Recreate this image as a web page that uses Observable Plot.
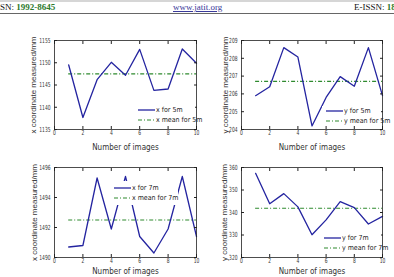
<!DOCTYPE html>
<html>
<head>
<meta charset="utf-8">
<script src="https://cdn.jsdelivr.net/npm/d3@7"></script>
<script src="https://cdn.jsdelivr.net/npm/@observablehq/plot@0.6"></script>
<style>
  body { margin: 0; background: #fff; }
  #page { position: relative; width: 394px; height: 277px; overflow: hidden; background: #fff; }
  .hdr { position: absolute; left: 0; top: 0; width: 394px; height: 11px; border-top: 2px solid #d6d6d6; border-bottom: 1px solid #666; font-family: "Liberation Serif", "Times New Roman", serif; font-size: 9px; line-height: 11px; color: #111; }
  .hdr span { position: absolute; top: 0; white-space: nowrap; }
  .hdr b { color: #2d7a2d; }
  .hdr a { color: #3a3a9a; text-decoration: underline; }
  .panel { position: absolute; }
  .legend { position: absolute; background: #fff; font-family: "Liberation Sans Narrow", "DejaVu Sans Condensed", "Liberation Sans", sans-serif; font-size: 7px; color: #222; }
  .legend .row { position: absolute; height: 10px; line-height: 10px; white-space: nowrap; }
  .legend svg { position: absolute; top: 0; }
  .legend .lbl { position: absolute; top: 0; }
</style>
</head>
<body>
<div id="page">
  <div class="hdr">
    <span style="left:-8px">ISSN: <b>1992-8645</b></span>
    <span style="left:173px"><a>www.jatit.org</a></span>
    <span style="left:354px">E-ISSN: <b>1817-3195</b></span>
  </div>
</div>
<script>
// Measurements over ten images, at 5 m and 7 m distance
const images = [1, 2, 3, 4, 5, 6, 7, 8, 9, 10];

const x5m = [1149.5, 1137.7, 1146.2, 1150.1, 1147.2, 1153.0, 1143.8, 1144.1, 1153.1, 1149.9];
const x5mMean = [1147.5];
const y5m = [205.9, 206.4, 208.6, 208.07, 204.2, 205.8, 206.97, 206.43, 208.6, 205.9];
const y5mMean = [206.7];
const x7m = [1490.7, 1490.8, 1495.3, 1491.9, 1495.4, 1491.4, 1490.3, 1491.9, 1495.4, 1491.4];
const x7mMean = [1492.5];
const y7m = [357.4, 343.9, 348.4, 342.5, 330.1, 336.7, 344.8, 342.2, 334.9, 338.3];
const y7mMean = [341.9];

const xTicks = [0, 2, 4, 6, 8, 10];
const yTicksX5 = [1135, 1140, 1145, 1150, 1155];
const yTicksY5 = [204, 205, 206, 207, 208, 209];
const yTicksX7 = [1490, 1492, 1494, 1496];
const yTicksY7 = [320, 330, 340, 350, 360];

const xTitle = "Number of images";
const yTitleX = "x coordinate measured/mm";
const yTitleY = "y coordinate measured/mm";

const legendX5 = ["x for 5m", "x mean for 5m"];
const legendY5 = ["y for 5m", "y mean for 5m"];
const legendX7 = ["x for 7m", "x mean for 7m"];
const legendY7 = ["y for 7m", "y mean for 7m"];

const BLUE = "#2424a0";
const GREEN = "#2f8a2f";
const DASH = "4,2,1,2";
const TICK_FONT = "'Liberation Sans Narrow', 'DejaVu Sans Condensed', 'Liberation Sans', sans-serif";

const panels = [
  {values: x5m, mean: x5mMean, ticks: yTicksX5, yTitle: yTitleX, legend: legendX5,
   box: {left: 0, top: 30, width: 200, height: 125, ml: 54, mt: 10, mr: 4, mb: 26, xTitleDy: 18, yTitleDx: -21},
   leg: {left: 134, top: 105, width: 61, height: 21}},
  {values: y5m, mean: y5mMean, ticks: yTicksY5, yTitle: yTitleY, legend: legendY5,
   box: {left: 190, top: 30, width: 196, height: 125, ml: 51, mt: 10, mr: 4, mb: 26, xTitleDy: 18, yTitleDx: -16.5},
   leg: {left: 322, top: 106, width: 59, height: 20}},
  {values: x7m, mean: x7mMean, ticks: yTicksX7, yTitle: yTitleX, legend: legendX7,
   box: {left: 0, top: 157, width: 200, height: 120, ml: 54, mt: 10, mr: 4, mb: 20, xTitleDy: 14, yTitleDx: -20},
   leg: {left: 110, top: 181, width: 68, height: 24, padTop: 2}},
  {values: y7m, mean: y7mMean, ticks: yTicksY7, yTitle: yTitleY, legend: legendY7,
   box: {left: 190, top: 157, width: 196, height: 120, ml: 51, mt: 10, mr: 4, mb: 20, xTitleDy: 14, yTitleDx: -17},
   leg: {left: 320, top: 233, width: 61, height: 21}}
];

const page = document.getElementById("page");

for (const p of panels) {
  const rows = images.map((n, i) => ({n, v: p.values[i]}));
  const b = p.box;
  const chart = Plot.plot({
    width: b.width,
    height: b.height,
    marginLeft: b.ml,
    marginTop: b.mt,
    marginRight: b.mr,
    marginBottom: b.mb,
    style: {background: "transparent", color: "#222", fontFamily: TICK_FONT, fontSize: "7px", overflow: "visible"},
    x: {domain: [xTicks[0], xTicks[xTicks.length - 1]], axis: null},
    y: {domain: [p.ticks[0], p.ticks[p.ticks.length - 1]], axis: null},
    marks: [
      Plot.ruleY(p.mean, {x1: images[0], x2: images[images.length - 1], stroke: GREEN, strokeWidth: 1.2, strokeDasharray: DASH}),
      Plot.line(rows, {x: "n", y: "v", stroke: BLUE, strokeWidth: 1.3}),
      Plot.frame({stroke: "#222", strokeWidth: 0.8}),
      Plot.axisX({anchor: "bottom", ticks: xTicks, tickSize: -3, tickPadding: 4, tickFormat: d => String(d), label: null, fill: "#333"}),
      Plot.axisX({anchor: "top", ticks: xTicks, tickSize: -3, tickFormat: () => "", label: null}),
      Plot.axisY({anchor: "left", ticks: p.ticks, tickSize: -3, tickPadding: 7, tickFormat: d => String(d), label: null, fill: "#333"}),
      Plot.axisY({anchor: "right", ticks: p.ticks, tickSize: -3, tickFormat: () => "", label: null}),
      Plot.text([xTitle], {frameAnchor: "bottom", lineAnchor: "middle", textAnchor: "middle", dy: b.xTitleDy, text: d => d, fontSize: 8, fill: "#333"}),
      Plot.text([p.yTitle], {frameAnchor: "left", rotate: -90, textAnchor: "middle", lineAnchor: "middle", dx: b.yTitleDx, text: d => d, fontSize: 8, fontFamily: "'Liberation Sans', Arial, sans-serif", fill: "#333"})
    ]
  });
  const wrap = document.createElement("div");
  wrap.className = "panel";
  wrap.style.left = b.left + "px";
  wrap.style.top = b.top + "px";
  wrap.appendChild(chart);
  page.appendChild(wrap);

  // narrow the numeric tick labels to a condensed look
  chart.querySelectorAll("g[aria-label$='tick label'] text").forEach(t => {
    if (!t.textContent) return;
    const w = t.getComputedTextLength();
    if (w > 0) {
      t.setAttribute("textLength", (w * 0.7).toFixed(2));
      t.setAttribute("lengthAdjust", "spacingAndGlyphs");
    }
  });

  // legend box drawn over the axes area
  const L = p.leg;
  const lg = document.createElement("div");
  lg.className = "legend";
  Object.assign(lg.style, {left: L.left + "px", top: L.top + "px", width: L.width + "px", height: L.height + "px"});
  const styles = [{stroke: BLUE, dash: null, w: 1.3}, {stroke: GREEN, dash: DASH, w: 1.2}];
  p.legend.forEach((label, i) => {
    const row = document.createElement("div");
    row.className = "row";
    row.style.left = "0px";
    row.style.top = ((L.padTop || 0) + i * 10) + "px";
    const s = styles[i];
    row.innerHTML = `<svg width="22" height="10" style="left:4px"><line x1="0" x2="17" y1="5" y2="5" stroke="${s.stroke}" stroke-width="${s.w}" ${s.dash ? `stroke-dasharray="${s.dash}"` : ""}/></svg><span class="lbl" style="left:22px">${label}</span>`;
    lg.appendChild(row);
  });
  page.appendChild(lg);
}
</script>
</body>
</html>
